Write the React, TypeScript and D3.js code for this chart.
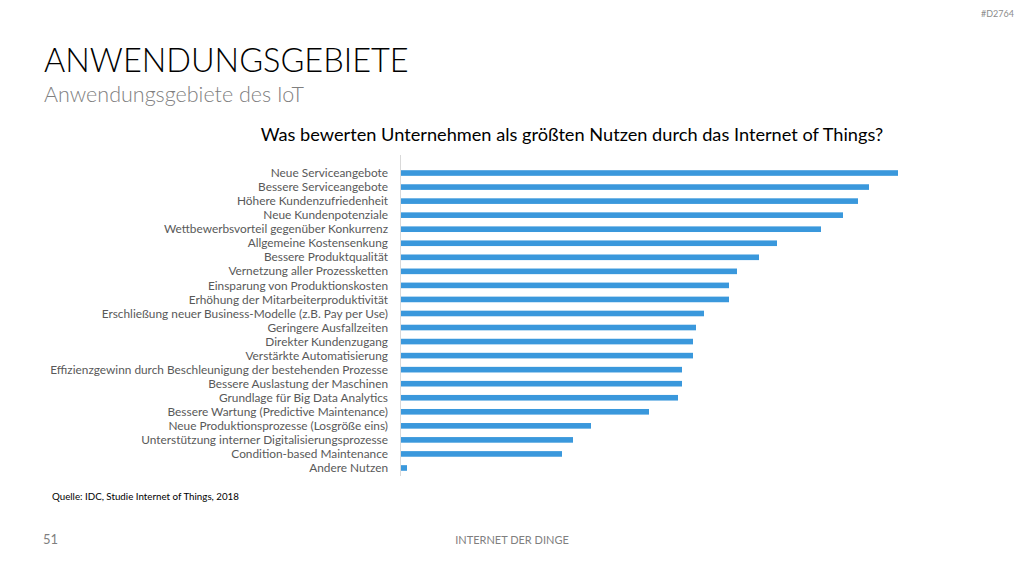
import React from "react";
import * as d3 from "d3";

// Nutzenkategorien (von oben nach unten) und Anteil der Nennungen in %
const categories = [
  "Neue Serviceangebote",
  "Bessere Serviceangebote",
  "Höhere Kundenzufriedenheit",
  "Neue Kundenpotenziale",
  "Wettbewerbsvorteil gegenüber Konkurrenz",
  "Allgemeine Kostensenkung",
  "Bessere Produktqualität",
  "Vernetzung aller Prozessketten",
  "Einsparung von Produktionskosten",
  "Erhöhung der Mitarbeiterproduktivität",
  "Erschließung neuer Business-Modelle (z.B. Pay per Use)",
  "Geringere Ausfallzeiten",
  "Direkter Kundenzugang",
  "Verstärkte Automatisierung",
  "Effizienzgewinn durch Beschleunigung der bestehenden Prozesse",
  "Bessere Auslastung der Maschinen",
  "Grundlage für Big Data Analytics",
  "Bessere Wartung (Predictive Maintenance)",
  "Neue Produktionsprozesse (Losgröße eins)",
  "Unterstützung interner Digitalisierungsprozesse",
  "Condition-based Maintenance",
  "Andere Nutzen",
];

const values = [
  49.7, 46.8, 45.7, 44.2, 42.0, 37.6, 35.8, 33.6, 32.8, 32.8, 30.3, 29.5,
  29.2, 29.2, 28.1, 28.1, 27.7, 24.8, 19.0, 17.2, 16.1, 0.6,
];

const W = 1024;
const H = 576;
const FONT = "Lato, 'Open Sans', sans-serif";

export default function App() {
  const x = d3.scaleLinear().domain([0, 50]).range([401, 901]);
  const y = d3
    .scaleBand()
    .domain(categories)
    .range([166, 475])
    .paddingInner(0.6)
    .paddingOuter(0.3);

  return (
    <svg
      width={W}
      height={H}
      style={{ position: "absolute", left: 0, top: 0, background: "#fff" }}
      fontFamily={FONT}
    >
      <text x={1014} y={17} textAnchor="end" fontSize={9} fill="#8c8c8c">
        #D2764
      </text>
      <text x={44} y={72} fontSize={32.5} fontWeight={300} fill="#000">
        ANWENDUNGSGEBIETE
      </text>
      <text x={44} y={102} fontSize={21.5} fontWeight={300} fill="#7f7f7f">
        Anwendungsgebiete des IoT
      </text>
      <text x={572} y={141} textAnchor="middle" fontSize={18.2} fill="#000">
        Was bewerten Unternehmen als größten Nutzen durch das Internet of Things?
      </text>

      <line x1={400.5} x2={400.5} y1={155} y2={476} stroke="#d9d9d9" />

      {categories.map((c, i) => (
        <g key={c}>
          <text
            x={388}
            y={(y(c) ?? 0) + y.bandwidth() / 2}
            dy="0.35em"
            textAnchor="end"
            fontSize={11.85}
            fill="#595959"
          >
            {c}
          </text>
          <rect
            x={x(0)}
            y={y(c)}
            width={x(values[i]) - x(0)}
            height={y.bandwidth()}
            fill="#3a98dc"
          />
        </g>
      ))}

      <text x={52} y={500} fontSize={9.75} fill="#000">
        Quelle: IDC, Studie Internet of Things, 2018
      </text>
      <text x={43} y={544} fontSize={13} fill="#7f7f7f">
        51
      </text>
      <text x={512} y={544} textAnchor="middle" fontSize={11} fill="#7f7f7f">
        INTERNET DER DINGE
      </text>
    </svg>
  );
}
